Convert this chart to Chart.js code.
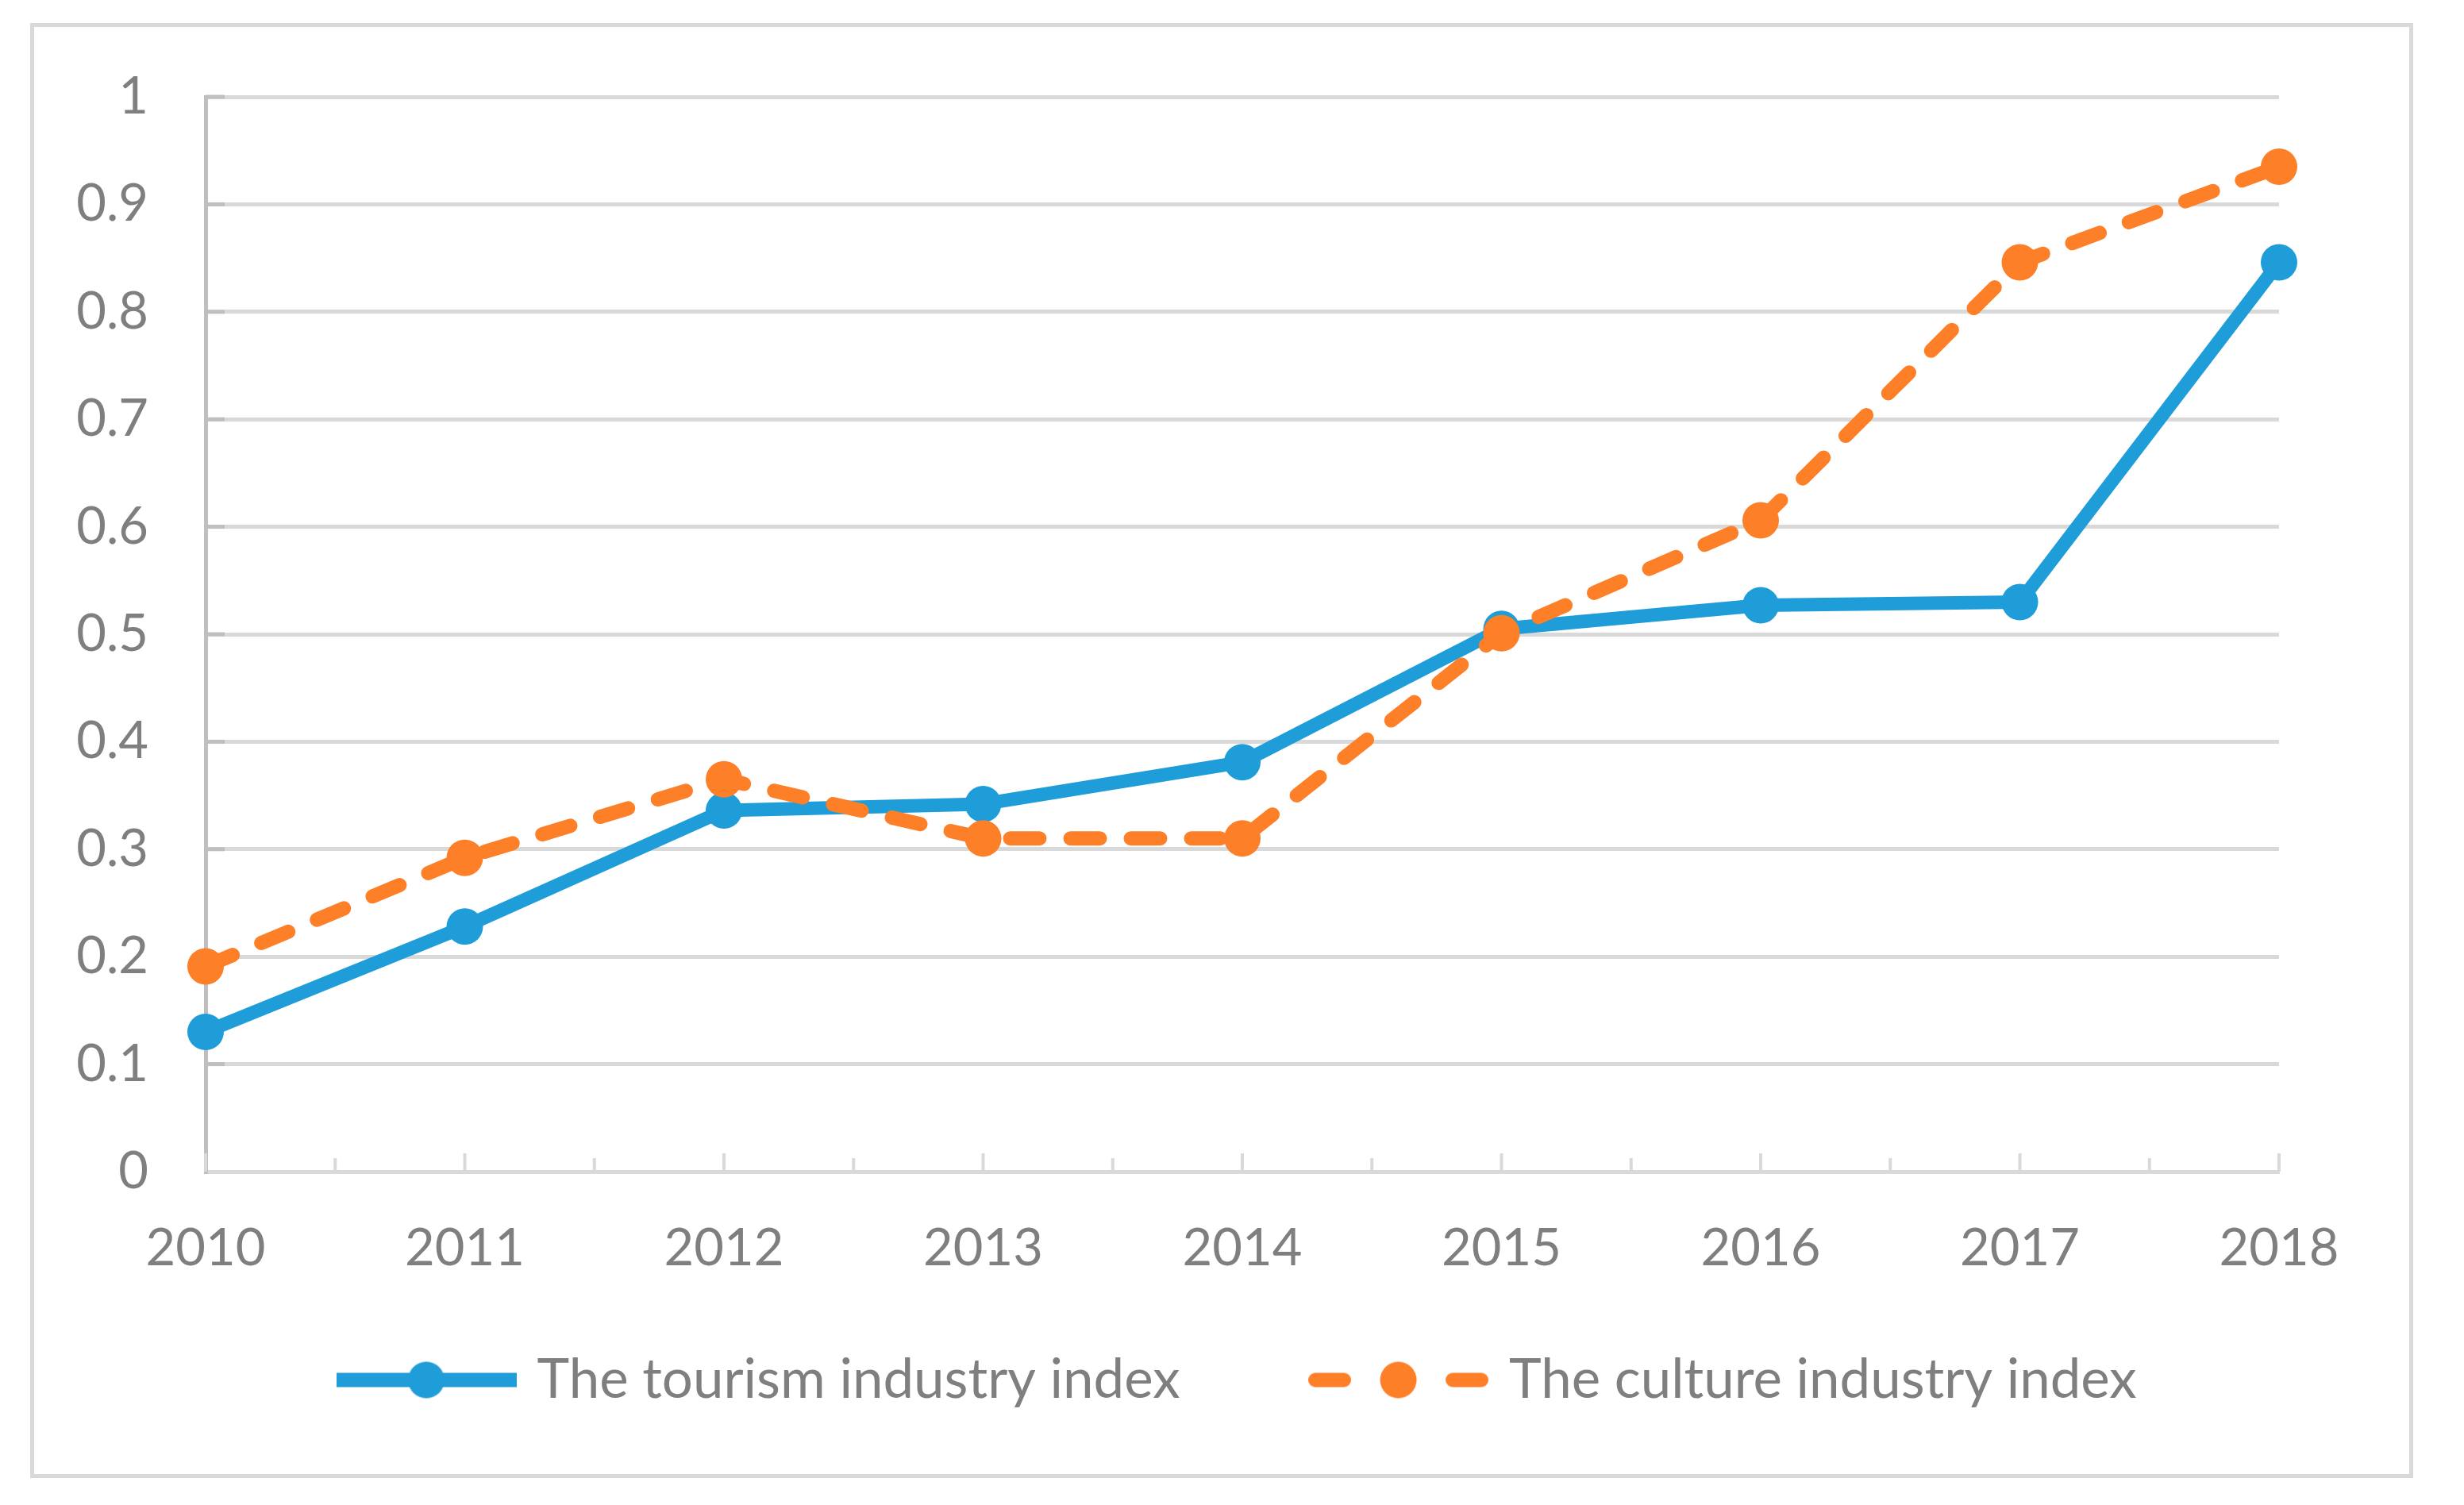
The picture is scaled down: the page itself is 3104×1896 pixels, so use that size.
<!DOCTYPE html>
<html>
<head>
<meta charset="utf-8">
<script src="https://cdn.jsdelivr.net/npm/chart.js@4"></script>
<style>
  html, body { margin: 0; padding: 0; background: #ffffff; }
  #frame {
    position: absolute;
    left: 38px;
    top: 29px;
    width: 3002px;
    height: 1833px;
    box-sizing: border-box;
    border: 5px solid #d9d9d9;
    background: #ffffff;
  }
  #chartIndex { display: block; }
</style>
</head>
<body>
<div id="frame"><canvas id="chartIndex" width="2992" height="1823"></canvas></div>
<script>
const years = ['2010', '2011', '2012', '2013', '2014', '2015', '2016', '2017', '2018'];
const tourismIndex = [0.13, 0.228, 0.336, 0.342, 0.381, 0.505, 0.527, 0.53, 0.846];
const cultureIndex = [0.191, 0.292, 0.365, 0.31, 0.31, 0.501, 0.606, 0.846, 0.935];
const yTickLabels = ['0', '0.1', '0.2', '0.3', '0.4', '0.5', '0.6', '0.7', '0.8', '0.9', '1'];

const BLUE = '#1f9dd9';
const ORANGE = '#fd7f28';
const TEXT_GREY = '#7f7f7f';
const AXIS_FONT = { family: "'Lato', 'Open Sans', sans-serif", size: 65 };
const LEGEND_FONT = { family: "'Lato', 'Open Sans', sans-serif", size: 69 };
const LEGEND_PAD = 170;

// small line + dot pictures for the legend
function makeLegendIcon(color, dashed) {
  const c = document.createElement('canvas');
  c.width = 227;
  c.height = 48;
  const g = c.getContext('2d');
  g.strokeStyle = color;
  g.fillStyle = color;
  g.lineWidth = 18;
  g.lineCap = 'round';
  if (dashed) {
    g.beginPath(); g.moveTo(9, 24); g.lineTo(45, 24); g.stroke();
    g.beginPath(); g.moveTo(182, 24); g.lineTo(218, 24); g.stroke();
  } else {
    g.lineCap = 'butt';
    g.beginPath(); g.moveTo(0, 24); g.lineTo(227, 24); g.stroke();
  }
  g.beginPath();
  g.arc(113.5, 24, 23, 0, Math.PI * 2);
  g.fill();
  return c;
}

const legendIcons = [makeLegendIcon(BLUE, false), makeLegendIcon(ORANGE, true)];

const insideTicks = {
  id: 'insideTicks',
  beforeDatasetsDraw(chart) {
    const { ctx, chartArea, scales } = chart;
    const x = scales.x;
    const y = scales.y;
    ctx.save();
    ctx.lineWidth = 5;
    ctx.strokeStyle = '#bfbfbf';
    y.ticks.forEach((tick, i) => {
      if (i === 0) return;
      const py = y.getPixelForTick(i);
      ctx.beginPath();
      ctx.moveTo(chartArea.left, py);
      ctx.lineTo(chartArea.left + 24, py);
      ctx.stroke();
    });
    ctx.strokeStyle = '#d9d9d9';
    ctx.lineWidth = 4;
    for (let i = 0; i < years.length; i++) {
      const px = x.getPixelForValue(i);
      ctx.beginPath();
      ctx.moveTo(px, chartArea.bottom);
      ctx.lineTo(px, chartArea.bottom - 23);
      ctx.stroke();
      if (i < years.length - 1) {
        const mid = (px + x.getPixelForValue(i + 1)) / 2;
        ctx.beginPath();
        ctx.moveTo(mid, chartArea.bottom);
        ctx.lineTo(mid, chartArea.bottom - 17);
        ctx.stroke();
      }
    }
    ctx.restore();
  }
};

// push the legend row to where the original has it
const legendPlace = {
  id: 'legendPlace',
  afterLayout(chart) {
    const legend = chart.legend;
    const h = legend.height;
    legend.left = 389 - LEGEND_PAD;
    legend.right = chart.width;
    legend.top = 1500;
    legend.bottom = legend.top + h;
  }
};

new Chart(document.getElementById('chartIndex'), {
  type: 'line',
  data: {
    labels: years,
    datasets: [
      {
        label: 'The tourism industry index',
        data: tourismIndex,
        borderColor: BLUE,
        backgroundColor: BLUE,
        borderWidth: 17,
        borderCapStyle: 'round',
        borderJoinStyle: 'round',
        pointRadius: 23,
        pointBorderWidth: 0,
        pointBackgroundColor: BLUE,
        tension: 0,
        order: 2
      },
      {
        label: 'The culture industry index',
        data: cultureIndex,
        borderColor: ORANGE,
        backgroundColor: ORANGE,
        borderWidth: 18,
        borderDash: [37, 39],
        borderCapStyle: 'round',
        borderJoinStyle: 'round',
        pointRadius: 23,
        pointBorderWidth: 0,
        pointBackgroundColor: ORANGE,
        tension: 0,
        order: 1
      }
    ]
  },
  options: {
    responsive: false,
    animation: false,
    layout: { padding: { top: 88, right: 164, bottom: 2, left: 0 } },
    plugins: {
      tooltip: { enabled: false },
      legend: {
        position: 'bottom',
        align: 'start',
        labels: {
          usePointStyle: true,
          pointStyleWidth: 210,
          padding: LEGEND_PAD,
          color: TEXT_GREY,
          font: LEGEND_FONT,
          sort: (a, b) => a.datasetIndex - b.datasetIndex,
          generateLabels(chart) {
            const items = Chart.defaults.plugins.legend.labels.generateLabels(chart);
            items.forEach((item) => {
              item.pointStyle = legendIcons[item.datasetIndex];
            });
            return items;
          }
        }
      }
    },
    scales: {
      x: {
        grid: { display: false },
        border: { display: true, color: '#d9d9d9', width: 5 },
        ticks: { color: TEXT_GREY, font: AXIS_FONT, padding: 50, maxRotation: 0 },
        afterFit(scale) { scale.height = 130; }
      },
      y: {
        min: 0,
        max: 1,
        grid: { color: '#d9d9d9', lineWidth: 5, drawTicks: false },
        border: { display: true, color: '#bfbfbf', width: 5 },
        ticks: {
          stepSize: 0.1,
          padding: 72,
          color: TEXT_GREY,
          font: AXIS_FONT,
          callback: (value, index) => yTickLabels[index]
        },
        afterFit(scale) {
          scale.width = 216;
          scale.paddingTop = 0;
          scale.paddingBottom = 0;
        }
      }
    }
  },
  plugins: [insideTicks, legendPlace]
});
</script>
</body>
</html>
